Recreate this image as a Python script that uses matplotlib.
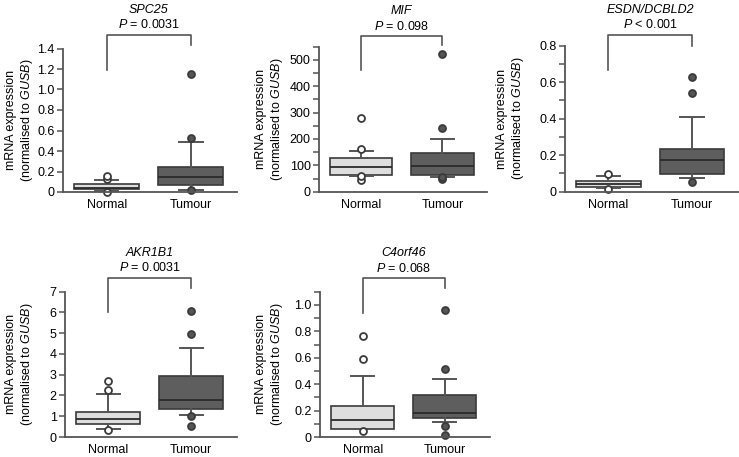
import numpy as np
import matplotlib
matplotlib.use('Agg')
import matplotlib.pyplot as plt
from matplotlib.ticker import MultipleLocator, FuncFormatter

plt.rcParams['font.family'] = ['Liberation Sans', 'DejaVu Sans']
plt.rcParams['mathtext.fontset'] = 'custom'
plt.rcParams['mathtext.rm'] = 'Liberation Sans'
plt.rcParams['mathtext.it'] = 'Liberation Sans:italic'

# values: [whislo, q1, med, q3, whishi]
genes = ['SPC25', 'MIF', 'ESDN/DCBLD2', 'AKR1B1', 'C4orf46']
p_vals = ['= 0.0031', '= 0.098', '< 0.001', '= 0.0031', '= 0.068']
groups = ['Normal', 'Tumour']

normal_stats = [[0.012, 0.025, 0.04, 0.082, 0.114],
                [58, 62, 93, 127, 156],
                [0.022, 0.027, 0.042, 0.058, 0.086],
                [0.39, 0.61, 0.89, 1.19, 2.09],
                [0.058, 0.063, 0.126, 0.232, 0.462]]
normal_fliers = [[0.0, 0.13, 0.153],
                 [46, 59, 161, 278],
                 [0.013, 0.097],
                 [0.35, 2.25, 2.72],
                 [0.043, 0.588, 0.765]]
tumour_stats = [[0.016, 0.072, 0.147, 0.244, 0.489],
                [57, 65, 97, 148, 200],
                [0.075, 0.095, 0.174, 0.232, 0.409],
                [1.05, 1.37, 1.80, 2.95, 4.27],
                [0.114, 0.144, 0.179, 0.316, 0.442]]
tumour_fliers = [[0.024, 0.528, 1.156],
                 [49, 57, 241, 524],
                 [0.055, 0.54, 0.628],
                 [0.52, 1.0, 4.94, 6.05],
                 [0.018, 0.081, 0.518, 0.965]]
# bracket: left leg end, right leg end, top
brackets = [[1.19, 1.434, 1.532],
            [461, 556, 590],
            [0.667, 0.80, 0.86],
            [6.0, 7.17, 7.67],
            [0.936, 1.126, 1.2]]
ytop = [1.4, 550, 0.8, 7, 1.1]
ymajor = [0.2, 100, 0.2, 1, 0.2]
yminor = [None, 50, 0.1, None, 0.1]

W, H = 739, 457
# axes boxes in pixels: left, right, top, bottom ; ylabel centre x
boxes = [(63, 237, 48.5, 192, 20),
         (319, 487, 46.7, 191.7, 270),
         (565, 738, 45.7, 191.7, 511),
         (65, 237, 291.7, 437, 20),
         (320, 490, 291.7, 437, 270)]

fig = plt.figure(figsize=(W / 100, H / 100), dpi=100)
edge = '#3a3a3a'
spine = '#555555'

for i, g in enumerate(genes):
    l, r, t, b, lx = boxes[i]
    ax = fig.add_axes([l / W, 1 - b / H, (r - l) / W, (b - t) / H])
    stats = []
    for s, f in ((normal_stats[i], normal_fliers[i]), (tumour_stats[i], tumour_fliers[i])):
        stats.append(dict(whislo=s[0], q1=s[1], med=s[2], q3=s[3], whishi=s[4], fliers=f))
    for k, fc in enumerate(['#dedede', '#5e5e5e']):
        mfc = 'white' if k == 0 else '#555555'
        ax.bxp([stats[k]], positions=[k], widths=0.77, patch_artist=True,
               showfliers=True, manage_ticks=False,
               boxprops=dict(facecolor=fc, edgecolor=edge, linewidth=1.2),
               medianprops=dict(color='#2a2a2a', linewidth=1.3),
               whiskerprops=dict(color=spine, linewidth=1.4),
               capprops=dict(color=spine, linewidth=1.4),
               capwidths=0.28,
               flierprops=dict(marker='o', markersize=5, markerfacecolor=mfc,
                               markeredgecolor=edge, markeredgewidth=1.3, clip_on=False))
    for art in ax.lines + ax.patches:
        art.set_clip_on(False)

    ax.set_xlim(-0.52, 1.55)
    ax.set_ylim(0, ytop[i])
    ax.set_xticks([0, 1])
    ax.set_xticklabels(groups, fontsize=9)
    ax.tick_params(axis='x', length=0, pad=5)
    ax.yaxis.set_major_locator(MultipleLocator(ymajor[i]))
    if yminor[i]:
        ax.yaxis.set_minor_locator(MultipleLocator(yminor[i]))
    if ymajor[i] >= 1:
        ax.yaxis.set_major_formatter(FuncFormatter(lambda v, p: '%d' % v))
    else:
        ax.yaxis.set_major_formatter(FuncFormatter(lambda v, p: '0' if v == 0 else '%.1f' % v))
    ax.tick_params(axis='y', which='both', direction='out', length=4, width=1.1,
                   color=spine, pad=2, labelsize=9)
    for sp in ['top', 'right']:
        ax.spines[sp].set_visible(False)
    for sp in ['left', 'bottom']:
        ax.spines[sp].set_color(spine)
        ax.spines[sp].set_linewidth(1.3)

    bl, br, bt = brackets[i]
    ax.plot([0, 0, 1, 1], [bl, bt, bt, br], color=spine, lw=1.2, clip_on=False)
    ax.annotate('$P$ ' + p_vals[i], xy=(0.5, bt), xytext=(0, 10), textcoords='offset pixels',
                ha='center', va='center', fontsize=9, annotation_clip=False)
    ax.annotate(g, xy=(0.5, bt), xytext=(0, 25), textcoords='offset pixels',
                ha='center', va='center', fontsize=9, style='italic', annotation_clip=False)

    fig.text(lx / W, 1 - (t + b) / 2 / H, 'mRNA expression\n(normalised to $\\mathit{GUSB}$)',
             rotation=90, ha='center', va='center', fontsize=9, linespacing=1.2)

fig.savefig('out.png', dpi=100)
